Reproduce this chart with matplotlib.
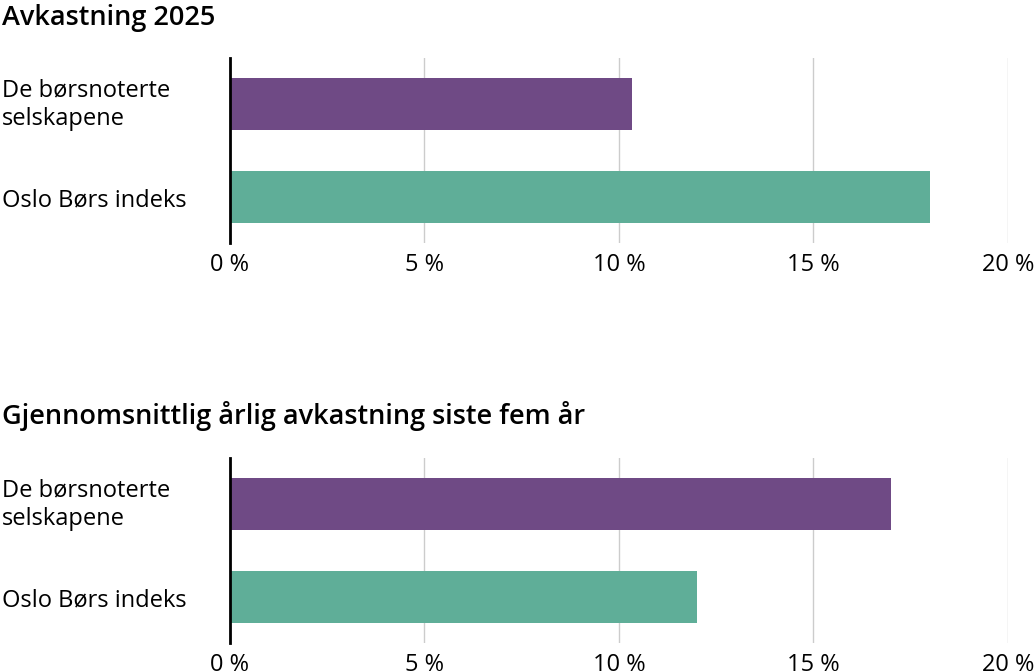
import matplotlib
matplotlib.use("Agg")
import matplotlib.pyplot as plt
import matplotlib.transforms as mtransforms
from matplotlib.ticker import FuncFormatter

plt.rcParams['font.family'] = ['Open Sans', 'DejaVu Sans']

categories = ["De børsnoterte\nselskapene", "Oslo Børs indeks"]
titles = ["Avkastning 2025", "Gjennomsnittlig årlig avkastning siste fem år"]
values_2025 = [10.33, 18.0]
values_5yr = [17.0, 12.0]
colors = ["#6f4a85", "#5fae98"]
xticks = [0, 5, 10, 15, 20]

fig = plt.figure(figsize=(10.34, 6.72), dpi=100)

# axes boxes in figure fractions, title y position
panels = [
    ([0.2224, 0.6384, 0.7524, 0.2753], 0.994, values_2025),
    ([0.2224, 0.0432, 0.7524, 0.2753], 0.404, values_5yr),
]

for (box, ty, vals), title in zip(panels, titles):
    ax = fig.add_axes(box)
    ax.barh(range(len(categories)), vals, height=0.555, color=colors, zorder=2)
    ax.set_xlim(0, 20)
    ax.set_ylim(1.49, -0.49)
    ax.set_xticks(xticks)
    ax.xaxis.set_major_formatter(FuncFormatter(lambda v, p: f"{v:.0f} %"))
    ax.set_yticks(range(len(categories)))
    ax.set_yticklabels(categories, ha="left", fontsize=17, linespacing=1.25)
    ax.tick_params(axis="y", length=0, pad=164)
    ax.tick_params(axis="x", length=0, pad=7, labelsize=17)
    # nudge the two-line label up a little
    lbl = ax.get_yticklabels()[0]
    lbl.set_transform(lbl.get_transform() + mtransforms.ScaledTranslation(0, 4 / 100, fig.dpi_scale_trans))
    ax.grid(axis="x", color="#cccccc", linewidth=1, zorder=0)
    for s in ["top", "right", "bottom"]:
        ax.spines[s].set_visible(False)
    ax.spines["left"].set_linewidth(2)
    ax.spines["left"].set_color("black")
    ax.spines["left"].set_zorder(3)
    fig.text(0.002, ty, title, fontsize=19.5, fontweight="semibold", va="top", ha="left")

fig.savefig("out.png", dpi=100)
